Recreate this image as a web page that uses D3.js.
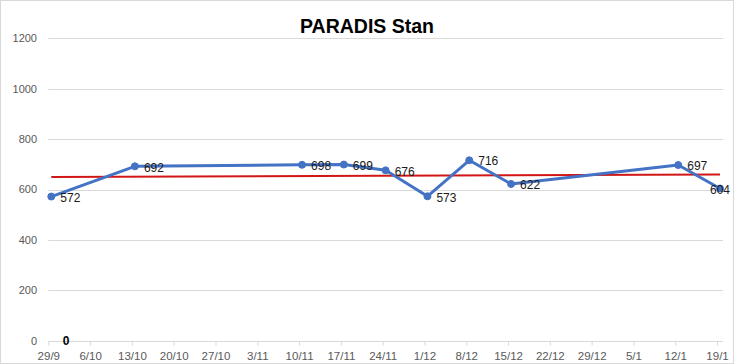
<!DOCTYPE html>
<html><head><meta charset="utf-8">
<script src="https://cdn.jsdelivr.net/npm/d3@7/dist/d3.min.js"></script>
<style>
html,body{margin:0;padding:0;background:#fff;}
svg{display:block;}
</style>
</head><body>
<svg id="chart" width="734" height="364"></svg>
<script>
const title = "PARADIS Stan";
const dates = ["2014-09-29","2014-10-13","2014-11-10","2014-11-17","2014-11-24","2014-12-01","2014-12-08","2014-12-15","2015-01-12","2015-01-19"];
const values = [572,692,698,699,676,573,716,622,697,604];
const trendValues = [649.8,659.5];
const tickDates = ["2014-09-29","2014-10-06","2014-10-13","2014-10-20","2014-10-27","2014-11-03","2014-11-10","2014-11-17","2014-11-24","2014-12-01","2014-12-08","2014-12-15","2014-12-22","2014-12-29","2015-01-05","2015-01-12","2015-01-19"];
const yTicks = [0,200,400,600,800,1000,1200];
const zeroLabelDates = ["2014-10-02"];
const zeroLabelValues = [0];

(function(){
const parse = d3.utcParse("%Y-%m-%d");
const fmt = d3.utcFormat("%-d/%-m");
const halfDay = 12*3600*1000;

const svg = d3.select("#chart");
const W = 734, H = 364;
const pLeft = 48.3, pRight = 723, pTop = 38.3, pBottom = 340.7;

svg.append("rect").attr("x",0.5).attr("y",0.5).attr("width",W-1).attr("height",H-1)
  .attr("fill","#fff").attr("stroke","#d9d9d9");

const x = d3.scaleUtc().domain([parse("2014-09-29"), parse("2015-01-20")]).range([pLeft,pRight]);
const y = d3.scaleLinear().domain([0,1200]).range([pBottom,pTop]);

// gridlines
svg.append("g").selectAll("line").data(yTicks.filter(v=>v>0)).join("line")
  .attr("x1",pLeft).attr("x2",pRight)
  .attr("y1",d=>Math.round(y(d))+0.5).attr("y2",d=>Math.round(y(d))+0.5)
  .attr("stroke","#d9d9d9").attr("stroke-width",1);

// y labels
svg.append("g").selectAll("text").data(yTicks).join("text")
  .attr("x",37).attr("y",d=>y(d)).attr("dy","0.35em")
  .attr("text-anchor","end")
  .attr("font-family","Liberation Sans, Arial, sans-serif").attr("font-size","11px")
  .attr("fill","#595959").text(d=>d);

// x axis
const xAxis = d3.axisBottom(x)
  .tickValues(tickDates.map(parse))
  .tickFormat(fmt)
  .tickSize(4).tickPadding(6);
const gx = svg.append("g").attr("transform",`translate(0,${Math.round(pBottom)+0.5})`).call(xAxis);
gx.select(".domain").attr("stroke","#d9d9d9").attr("d",`M${pLeft},0H${pRight}`);
gx.selectAll(".tick line").attr("stroke","#d9d9d9");
gx.selectAll(".tick text").attr("font-family","Liberation Sans, Arial, sans-serif")
  .attr("font-size","11.5px").attr("fill","#595959");

// trend line
const trend = [
  {t: new Date(parse(dates[0]).getTime()+halfDay), v: trendValues[0]},
  {t: new Date(parse(dates[dates.length-1]).getTime()+halfDay), v: trendValues[1]}
];
svg.append("path").datum(trend)
  .attr("d", d3.line().x(p=>x(p.t)).y(p=>y(p.v)))
  .attr("fill","none").attr("stroke","#d21616").attr("stroke-width",2);

// data line
const pts = dates.map((d,i)=>({t:new Date(parse(d).getTime()+halfDay), v:values[i]}));
svg.append("path").datum(pts)
  .attr("d", d3.line().x(p=>x(p.t)).y(p=>y(p.v)))
  .attr("fill","none").attr("stroke","#4472c4").attr("stroke-width",3).attr("stroke-linejoin","round");

svg.append("g").selectAll("circle").data(pts).join("circle")
  .attr("cx",p=>x(p.t)).attr("cy",p=>y(p.v)).attr("r",3.5)
  .attr("fill","#4472c4").attr("stroke","#4472c4");

// data labels (kept inside the chart frame, as Excel does)
const labels = svg.append("g").selectAll("text").data(pts).join("text")
  .attr("x",p=>x(p.t)+9).attr("y",p=>y(p.v)+1).attr("dy","0.35em")
  .attr("font-family","Liberation Sans, Arial, sans-serif").attr("font-size","12px")
  .attr("fill","#1a1a1a").text(p=>p.v);
labels.each(function(p){
  const w = this.getComputedTextLength();
  const x0 = x(p.t)+9;
  if (x0 + w > W - 4) d3.select(this).attr("x", W - 4 - w);
});

// stray zero label
svg.append("g").selectAll("text").data(zeroLabelDates.map((d,i)=>({t:parse(d), v:zeroLabelValues[i]}))).join("text")
  .attr("x",p=>x(p.t)).attr("y",p=>y(p.v)).attr("dy","0.35em").attr("text-anchor","middle")
  .attr("font-family","Liberation Sans, Arial, sans-serif").attr("font-size","12px").attr("font-weight","bold")
  .attr("fill","#000").text(p=>p.v);

// title
svg.append("text").attr("x",367).attr("y",33).attr("text-anchor","middle")
  .attr("font-family","Liberation Sans, Arial, sans-serif").attr("font-size","19.5px").attr("font-weight","bold")
  .attr("fill","#000").text(title);
})();
</script>
</body></html>
